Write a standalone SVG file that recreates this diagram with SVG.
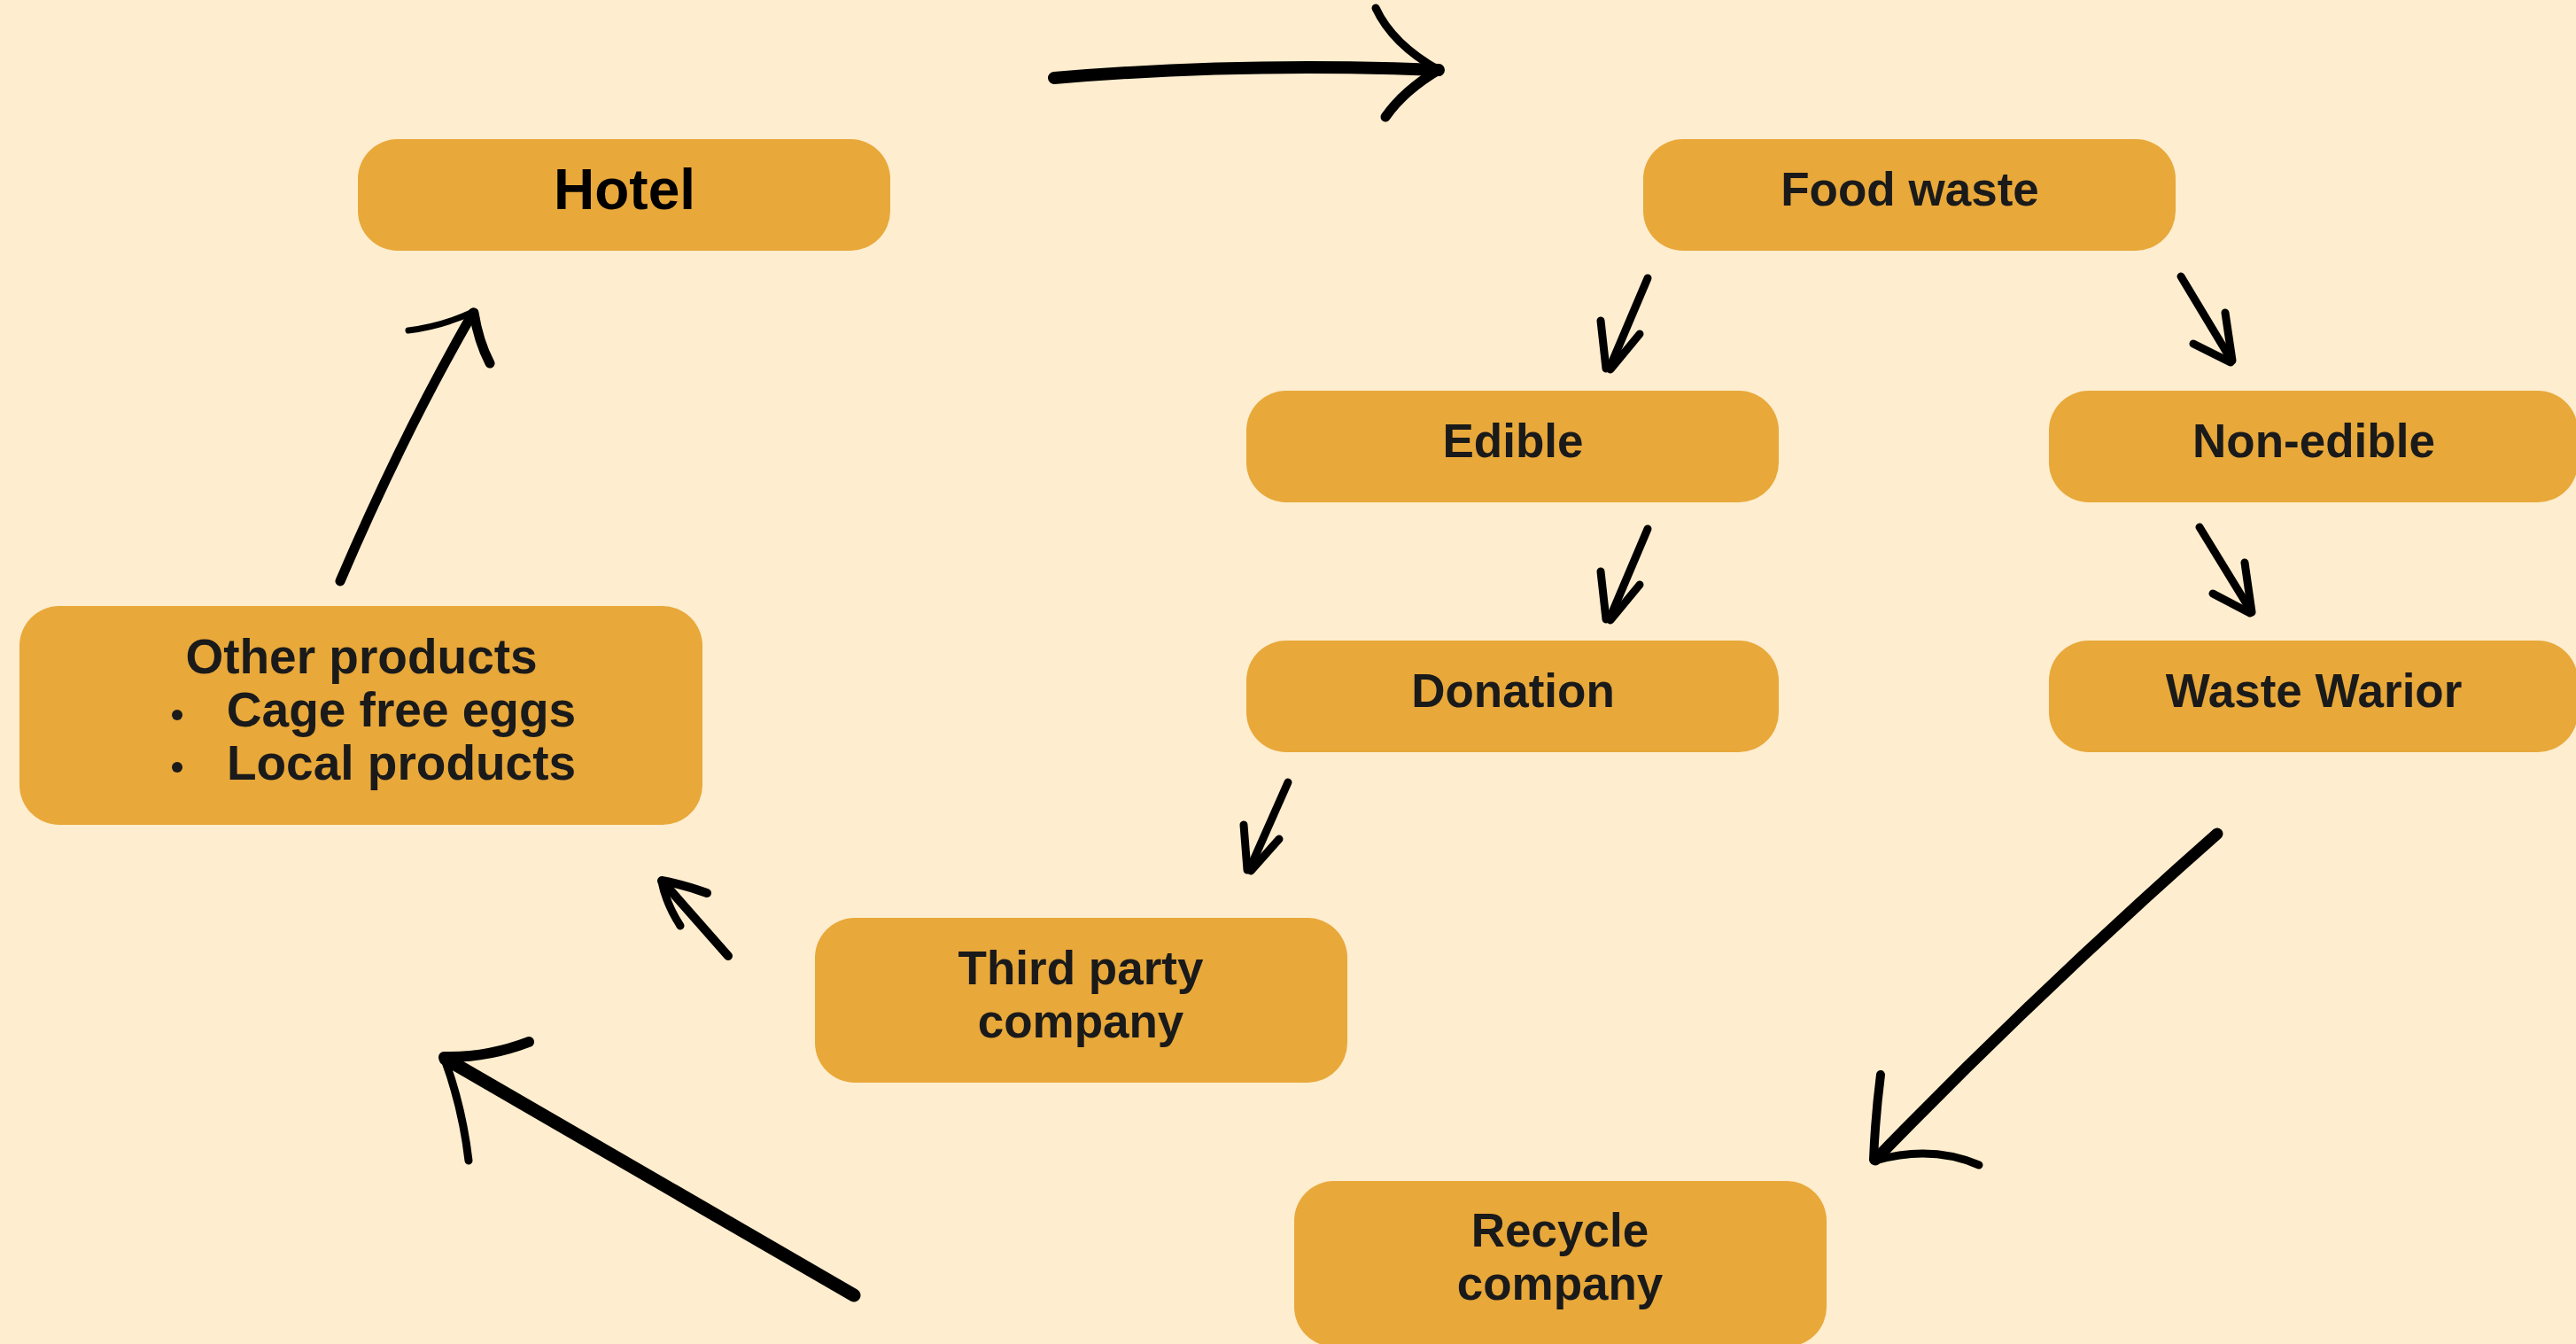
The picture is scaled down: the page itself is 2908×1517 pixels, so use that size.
<svg xmlns="http://www.w3.org/2000/svg" width="2908" height="1517" viewBox="0 0 2908 1517">
<style>
.box{fill:#E8A83A}
.t{font-family:"Liberation Sans",Arial,sans-serif;font-weight:bold;font-size:53px;fill:#1a1a1a;text-anchor:middle}
.a{fill:none;stroke:#000;stroke-linecap:round;stroke-linejoin:round}
</style>
<rect width="2908" height="1517" fill="#FEEDCE"/>
<g id="connectors">
  <g id="hotel-food">
    <path class="a" stroke-width="14" d="M1190,88 Q1400,70 1624,79"/>
    <path class="a" stroke-width="9" d="M1553,9 Q1572,50 1624,79"/>
    <path class="a" stroke-width="11" d="M1564,132 Q1585,102 1624,79"/>
  </g>
  <g id="food-edible">
    <path class="a" stroke-width="9" d="M1860,314 L1818,413"/>
    <path class="a" stroke-width="9" d="M1807,362 L1813,416"/>
    <path class="a" stroke-width="9" d="M1851,377 L1818,417"/>
  </g>
  <g id="food-nonedible">
    <path class="a" stroke-width="9" d="M2462,312 L2518,405"/>
    <path class="a" stroke-width="9" d="M2512,353 L2520,407"/>
    <path class="a" stroke-width="9" d="M2476,388 L2518,409"/>
  </g>
  <g id="edible-donation">
    <path class="a" stroke-width="9" d="M1860,597 L1818,696"/>
    <path class="a" stroke-width="9" d="M1807,645 L1813,699"/>
    <path class="a" stroke-width="9" d="M1851,660 L1818,700"/>
  </g>
  <g id="nonedible-waste">
    <path class="a" stroke-width="9" d="M2483,595 L2540,688"/>
    <path class="a" stroke-width="9" d="M2534,635 L2542,691"/>
    <path class="a" stroke-width="9" d="M2498,670 L2540,692"/>
  </g>
  <g id="donation-third">
    <path class="a" stroke-width="9" d="M1454,883 L1411,980"/>
    <path class="a" stroke-width="9" d="M1404,931 L1408,982"/>
    <path class="a" stroke-width="9" d="M1444,947 L1412,983"/>
  </g>
  <g id="waste-recycle">
    <path class="a" stroke-width="13" d="M2503,941 Q2300,1120 2117,1309"/>
    <path class="a" stroke-width="10" d="M2123,1213 Q2117,1260 2115,1309"/>
    <path class="a" stroke-width="9" d="M2234,1315 Q2180,1292 2117,1310"/>
  </g>
  <g id="recycle-other">
    <path class="a" stroke-width="15" d="M964,1462 L503,1195"/>
    <path class="a" stroke-width="12" d="M597,1176 Q550,1194 501,1193"/>
    <path class="a" stroke-width="9" d="M529,1310 Q522,1250 502,1196"/>
  </g>
  <g id="third-other">
    <path class="a" stroke-width="10" d="M822,1079 L748,995"/>
    <path class="a" stroke-width="10" d="M798,1008 Q770,998 747,994"/>
    <path class="a" stroke-width="9" d="M768,1045 Q752,1020 747,995"/>
  </g>
  <g id="other-hotel">
    <path class="a" stroke-width="11" d="M384,656 Q455,490 534,353"/>
    <path class="a" stroke-width="7" d="M461,373 Q500,368 534,352"/>
    <path class="a" stroke-width="11" d="M553,410 Q540,385 535,353"/>
  </g>
</g>
<g id="hotel">
  <rect class="box" x="404" y="157" width="601" height="126" rx="45"/>
  <text x="705" y="236" style="font-family:'Liberation Sans',Arial,sans-serif;font-weight:bold;font-size:64px;fill:#000;text-anchor:middle">Hotel</text>
</g>
<g id="food-waste">
  <rect class="box" x="1855" y="157" width="601" height="126" rx="45"/>
  <text class="t" x="2156" y="232">Food waste</text>
</g>
<g id="edible">
  <rect class="box" x="1407" y="441" width="601" height="126" rx="45"/>
  <text class="t" x="1708" y="516">Edible</text>
</g>
<g id="non-edible">
  <rect class="box" x="2313" y="441" width="597" height="126" rx="45"/>
  <text class="t" x="2612" y="516">Non-edible</text>
</g>
<g id="donation">
  <rect class="box" x="1407" y="723" width="601" height="126" rx="45"/>
  <text class="t" x="1708" y="798">Donation</text>
</g>
<g id="waste-warior">
  <rect class="box" x="2313" y="723" width="597" height="126" rx="45"/>
  <text class="t" x="2612" y="798">Waste Warior</text>
</g>
<g id="third-party">
  <rect class="box" x="920" y="1036" width="601" height="186" rx="45"/>
  <text class="t" x="1220" y="1111">Third party</text>
  <text class="t" x="1220" y="1171">company</text>
</g>
<g id="recycle">
  <rect class="box" x="1461" y="1333" width="601" height="187" rx="45"/>
  <text class="t" x="1761" y="1407">Recycle</text>
  <text class="t" x="1761" y="1467">company</text>
</g>
<g id="other-products">
  <rect class="box" x="22" y="684" width="771" height="247" rx="45"/>
  <text class="t" x="408" y="760" style="font-size:55px">Other products</text>
  <circle cx="200" cy="807" r="6" fill="#1a1a1a"/>
  <text class="t" x="453" y="820" style="font-size:55px">Cage free eggs</text>
  <circle cx="200" cy="866" r="6" fill="#1a1a1a"/>
  <text class="t" x="453" y="880" style="font-size:55px">Local products</text>
</g>
</svg>
